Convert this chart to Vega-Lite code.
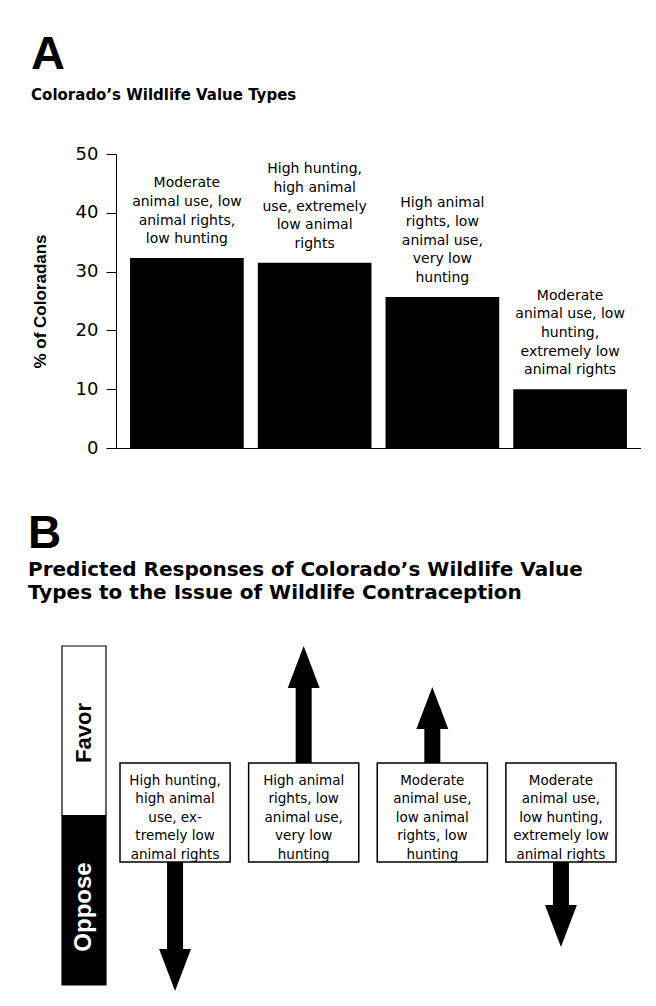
{
  "$schema": "https://vega.github.io/schema/vega-lite/v6.json",
  "padding": {"left": 28, "top": 31, "right": 0, "bottom": 0},
  "background": "white",
  "config": {
    "font": "DejaVu Sans",
    "view": {"stroke": null},
    "axis": {"domainColor": "#000", "tickColor": "#000", "labelColor": "#000", "titleColor": "#000", "grid": false},
    "title": {"color": "#000", "subtitleColor": "#000", "anchor": "start", "font": "Liberation Sans", "subtitleFont": "DejaVu Sans", "fontWeight": "bold", "subtitleFontWeight": "bold"}
  },
  "spacing": 54,
  "vconcat": [
    {
      "width": 579,
      "height": 294,
      "title": {"text": "A", "subtitle": "Colorado’s Wildlife Value Types", "frame": "bounds", "fontSize": 47, "subtitleFontSize": 15, "subtitlePadding": 9, "offset": 41},
      "data": {"values": [
        {"type": "Moderate animal use, low animal rights, low hunting", "pct": 32.3, "label": ["", "Moderate", "animal use, low", "animal rights,", "low hunting"]},
        {"type": "High hunting, high animal use, extremely low animal rights", "pct": 31.5, "label": ["High hunting,", "high animal", "use, extremely", "low animal", "rights"]},
        {"type": "High animal rights, low animal use, very low hunting", "pct": 25.7, "label": ["High animal", "rights, low", "animal use,", "very low", "hunting"]},
        {"type": "Moderate animal use, low hunting, extremely low animal rights", "pct": 10.0, "label": ["Moderate", "animal use, low", "hunting,", "extremely low", "animal rights"]}
      ]},
      "encoding": {
        "x": {"field": "type", "type": "nominal", "scale": {"domain": ["Moderate animal use, low animal rights, low hunting", "High hunting, high animal use, extremely low animal rights", "High animal rights, low animal use, very low hunting", "Moderate animal use, low hunting, extremely low animal rights"], "range": [54, 579], "paddingInner": 0.11, "paddingOuter": 0.11}, "axis": {"labels": false, "ticks": false, "title": null, "domainWidth": 1}},
        "y": {"field": "pct", "type": "quantitative", "scale": {"domain": [0, 50], "nice": false}, "axis": {"offset": -54, "values": [0, 10, 20, 30, 40, 50], "tickSize": 10, "labelPadding": 8, "labelFontSize": 18, "labelFont": "DejaVu Sans", "title": "% of Coloradans", "titleFont": "Liberation Sans", "titleFontSize": 17, "titleFontWeight": "bold", "titlePadding": 26}}
      },
      "layer": [
        {"mark": {"type": "bar", "color": "#000"}},
        {"mark": {"type": "text", "baseline": "middle", "dy": -93.5, "fontSize": 14, "lineHeight": 18.7, "color": "#000"}, "encoding": {"text": {"field": "label"}}}
      ]
    },
    {
      "title": {"text": "B", "subtitle": ["Predicted Responses of Colorado’s Wildlife Value", "Types to the Issue of Wildlife Contraception"], "frame": "group", "dx": -34, "fontSize": 46, "subtitleFontSize": 20, "subtitleLineHeight": 23, "subtitlePadding": 2, "offset": 41},
      "spacing": 12,
      "hconcat": [
        {
          "width": 44,
          "height": 339,
          "data": {"values": [{"stance": "Favor", "extent": 1}, {"stance": "Oppose", "extent": -1}]},
          "encoding": {"y": {"field": "extent", "type": "quantitative", "scale": {"domain": [-1, 1], "nice": false, "zero": false}, "axis": null}},
          "layer": [
            {"mark": {"type": "rect", "stroke": "#000", "strokeWidth": 1.2}, "encoding": {"y2": {"datum": 0}, "fill": {"field": "stance", "type": "nominal", "scale": {"domain": ["Favor", "Oppose"], "range": ["#ffffff", "#000000"]}, "legend": null}}},
            {"transform": [{"filter": "datum.stance === 'Favor'"}], "mark": {"type": "text", "angle": 270, "font": "Liberation Sans", "fontSize": 22, "fontWeight": "bold", "color": "#000", "align": "center", "baseline": "middle"}, "encoding": {"y": {"datum": 0.487}, "text": {"field": "stance"}}},
            {"transform": [{"filter": "datum.stance === 'Oppose'"}], "mark": {"type": "text", "angle": 270, "font": "Liberation Sans", "fontSize": 24, "fontWeight": "bold", "color": "#fff", "align": "center", "baseline": "middle"}, "encoding": {"y": {"datum": -0.54}, "text": {"field": "stance"}}}
          ]
        },
        {
          "width": 496,
          "height": 339,
          "data": {"values": [
            {"type": "High hunting, high animal use, extremely low animal rights", "label": ["High hunting,", "high animal", "use, ex-", "tremely low", "animal rights"], "response": -1.035, "stance": "Oppose"},
            {"type": "High animal rights, low animal use, very low hunting", "label": ["High animal", "rights, low", "animal use,", "very low", "hunting"], "response": 1.0, "stance": "Favor"},
            {"type": "Moderate animal use, low animal rights, low hunting", "label": ["Moderate", "animal use,", "low animal", "rights, low", "hunting"], "response": 0.758, "stance": "Favor"},
            {"type": "Moderate animal use, low hunting, extremely low animal rights", "label": ["Moderate", "animal use,", "low hunting,", "extremely low", "animal rights"], "response": -0.776, "stance": "Oppose"}
          ]},
          "encoding": {
            "x": {"field": "type", "type": "nominal", "scale": {"domain": ["High hunting, high animal use, extremely low animal rights", "High animal rights, low animal use, very low hunting", "Moderate animal use, low animal rights, low hunting", "Moderate animal use, low hunting, extremely low animal rights"], "paddingInner": 0.144, "paddingOuter": 0}, "axis": null},
            "y": {"field": "response", "type": "quantitative", "scale": {"domain": [-1, 1], "nice": false, "zero": false}, "axis": null}
          },
          "layer": [
            {"transform": [{"filter": "datum.response > 0"}], "mark": {"type": "rule", "strokeWidth": 16, "color": "#000", "y2Offset": 21}, "encoding": {"y": {"datum": 0}, "y2": {"field": "response"}}},
            {"transform": [{"filter": "datum.response < 0"}], "mark": {"type": "rule", "strokeWidth": 16, "color": "#000", "y2Offset": -21}, "encoding": {"y": {"datum": 0}, "y2": {"field": "response"}}},
            {"mark": {"type": "rect", "fill": "#fff", "stroke": "#000", "strokeWidth": 1.5}, "encoding": {"y": {"datum": 0.31}, "y2": {"datum": -0.274}}},
            {"mark": {"type": "point", "filled": true, "size": 1764, "opacity": 1, "color": "#000", "strokeWidth": 0}, "encoding": {"shape": {"field": "stance", "type": "nominal", "scale": {"domain": ["Favor", "Oppose"], "range": ["M0,0L0.76,2L-0.76,2Z", "M0,0L0.76,-2L-0.76,-2Z"]}, "legend": null}}},
            {"mark": {"type": "text", "fontSize": 13.5, "lineHeight": 18.5, "baseline": "middle", "color": "#000"}, "encoding": {"y": {"datum": 0.204}, "text": {"field": "label"}}}
          ]
        }
      ]
    }
  ]
}
